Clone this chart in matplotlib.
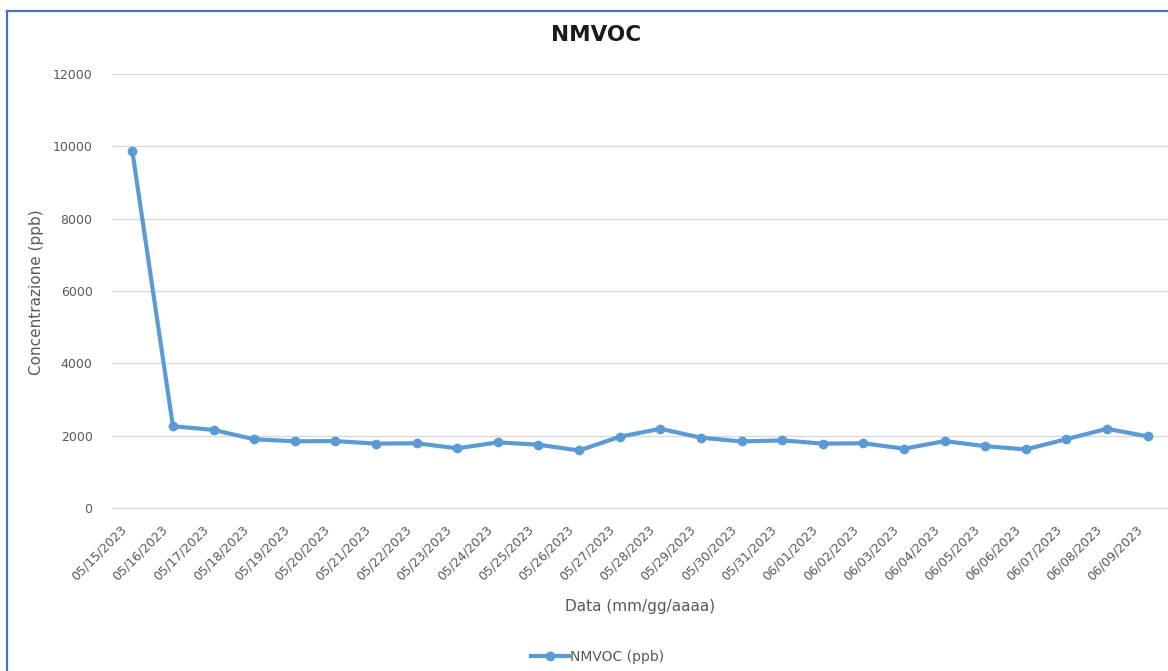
import numpy as np
import matplotlib.pyplot as plt
import matplotlib.transforms as mtransforms
from matplotlib.lines import Line2D

# data
dates = ['05/15/2023', '05/16/2023', '05/17/2023', '05/18/2023', '05/19/2023',
         '05/20/2023', '05/21/2023', '05/22/2023', '05/23/2023', '05/24/2023',
         '05/25/2023', '05/26/2023', '05/27/2023', '05/28/2023', '05/29/2023',
         '05/30/2023', '05/31/2023', '06/01/2023', '06/02/2023', '06/03/2023',
         '06/04/2023', '06/05/2023', '06/06/2023', '06/07/2023', '06/08/2023',
         '06/09/2023']
nmvoc = [9870, 2260, 2160, 1900, 1845, 1850, 1780, 1790, 1650, 1815,
         1750, 1590, 1970, 2190, 1945, 1840, 1870, 1780, 1790, 1640,
         1850, 1710, 1620, 1905, 2190, 1980]
yticks = [0, 2000, 4000, 6000, 8000, 10000, 12000]

blue = '#5b9bd5'
text_col = '#595959'
grid_col = '#d9d9d9'

fig = plt.figure(figsize=(11.68, 6.71), dpi=100)
ax = fig.add_axes([112 / 1168, 1 - 508 / 671, 1 - 112 / 1168, (508 - 74) / 671])

x = np.arange(len(dates))
ax.plot(x, nmvoc, color=blue, linewidth=3, marker='o', markersize=6,
        label='NMVOC (ppb)', solid_joinstyle='round')

ax.set_xlim(-0.5, len(dates) - 0.5)
ax.set_ylim(0, 12000)
ax.set_yticks(yticks)
ax.set_yticklabels([str(v) for v in yticks], fontsize=9, color=text_col)
ax.set_xticks(x)
ax.set_xticklabels(dates, rotation=45, ha='right', rotation_mode='anchor',
                   fontsize=9, color=text_col)
ax.tick_params(axis='both', length=0)
ax.tick_params(axis='y', pad=14)
ax.tick_params(axis='x', pad=11)

# nudge the rotated date labels a bit to the left, like the original
shift = mtransforms.ScaledTranslation(-12 / 100, 0, fig.dpi_scale_trans)
for lab in ax.get_xticklabels():
    lab.set_transform(lab.get_transform() + shift)

ax.grid(axis='y', color=grid_col, linewidth=1)
ax.set_axisbelow(True)
for s in ['top', 'right', 'left']:
    ax.spines[s].set_visible(False)
ax.spines['bottom'].set_color(grid_col)

fig.text(596 / 1168, 1 - 35 / 671, 'NMVOC', ha='center', va='center',
         fontsize=15.5, fontweight='bold', color='#1a1a1a')
fig.text(37 / 1168, 1 - 292 / 671, 'Concentrazione (ppb)', rotation=90,
         ha='center', va='center', fontsize=11, color=text_col)
fig.text(640 / 1168, 1 - 606 / 671, 'Data (mm/gg/aaaa)', ha='center',
         va='center', fontsize=11, color=text_col)

leg = fig.legend(loc='center', bbox_to_anchor=(598 / 1168, 1 - 657 / 671),
                 frameon=False, fontsize=10, handlelength=2.7,
                 handletextpad=0.1, borderpad=0)
for t in leg.get_texts():
    t.set_color(text_col)

# blue frame around the chart (left and top edges visible)
fig.add_artist(Line2D([7 / 1168, 7 / 1168], [0, 1 - 11 / 671],
                      transform=fig.transFigure, color='#4472c4', linewidth=1.6))
fig.add_artist(Line2D([7 / 1168, 1], [1 - 11 / 671, 1 - 11 / 671],
                      transform=fig.transFigure, color='#4472c4', linewidth=1.6))

fig.savefig('out.png', dpi=100)
